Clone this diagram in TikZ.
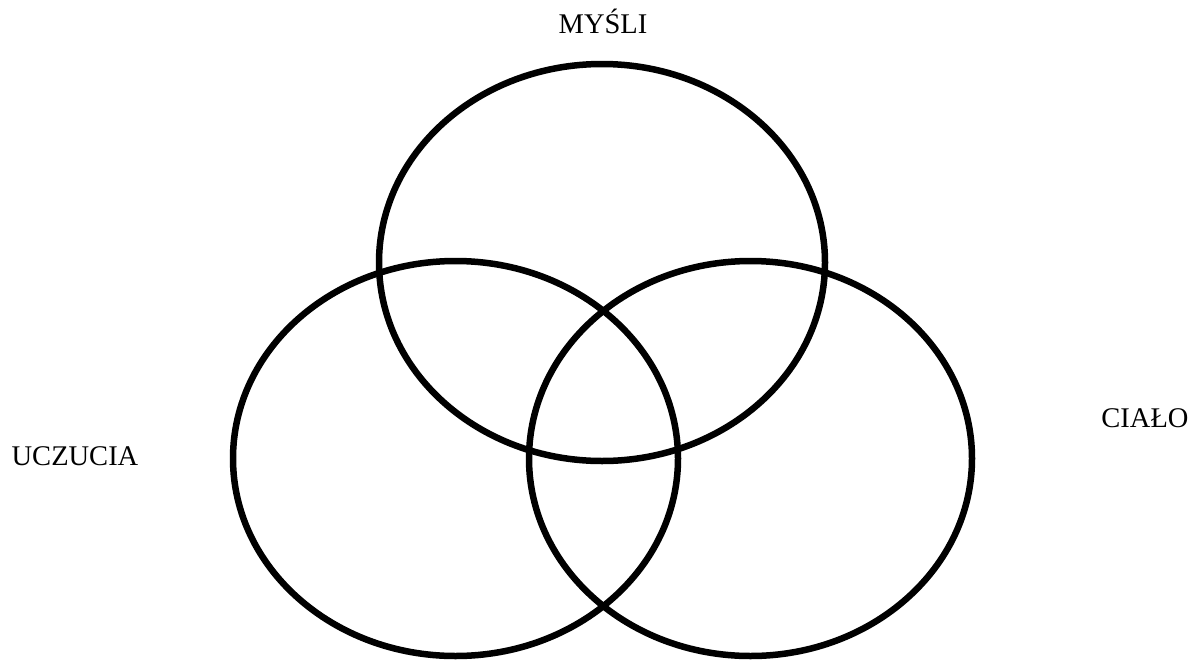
\documentclass[tikz,border=0pt]{standalone}
\usepackage{fontspec}
\setmainfont{Liberation Serif}
\usetikzlibrary{shapes.geometric}
\begin{document}
\begin{tikzpicture}[x=1pt,y=-1pt,
  venn/.style={draw=black, line width=6.5pt, shape=ellipse, inner sep=0pt, outer sep=0pt},
  lbl/.style={inner sep=0pt, anchor=base, font=\fontsize{28.5}{34}\selectfont}]
\useasboundingbox (0,0) rectangle (1199,659);
\node[venn, minimum width=446pt, minimum height=397pt] (mysli) at (602,262.5) {};
\node[venn, minimum width=445pt, minimum height=395pt] (uczucia) at (455.5,458.5) {};
\node[venn, minimum width=443pt, minimum height=395pt] (cialo) at (750.5,458.5) {};
\node[lbl] (tm) at (603,33) {MYŚLI};
\node[lbl] (tu) at (75,465) {UCZUCIA};
\node[lbl] (tc) at (1145,427) {CIAŁO};
\end{tikzpicture}
\end{document}
